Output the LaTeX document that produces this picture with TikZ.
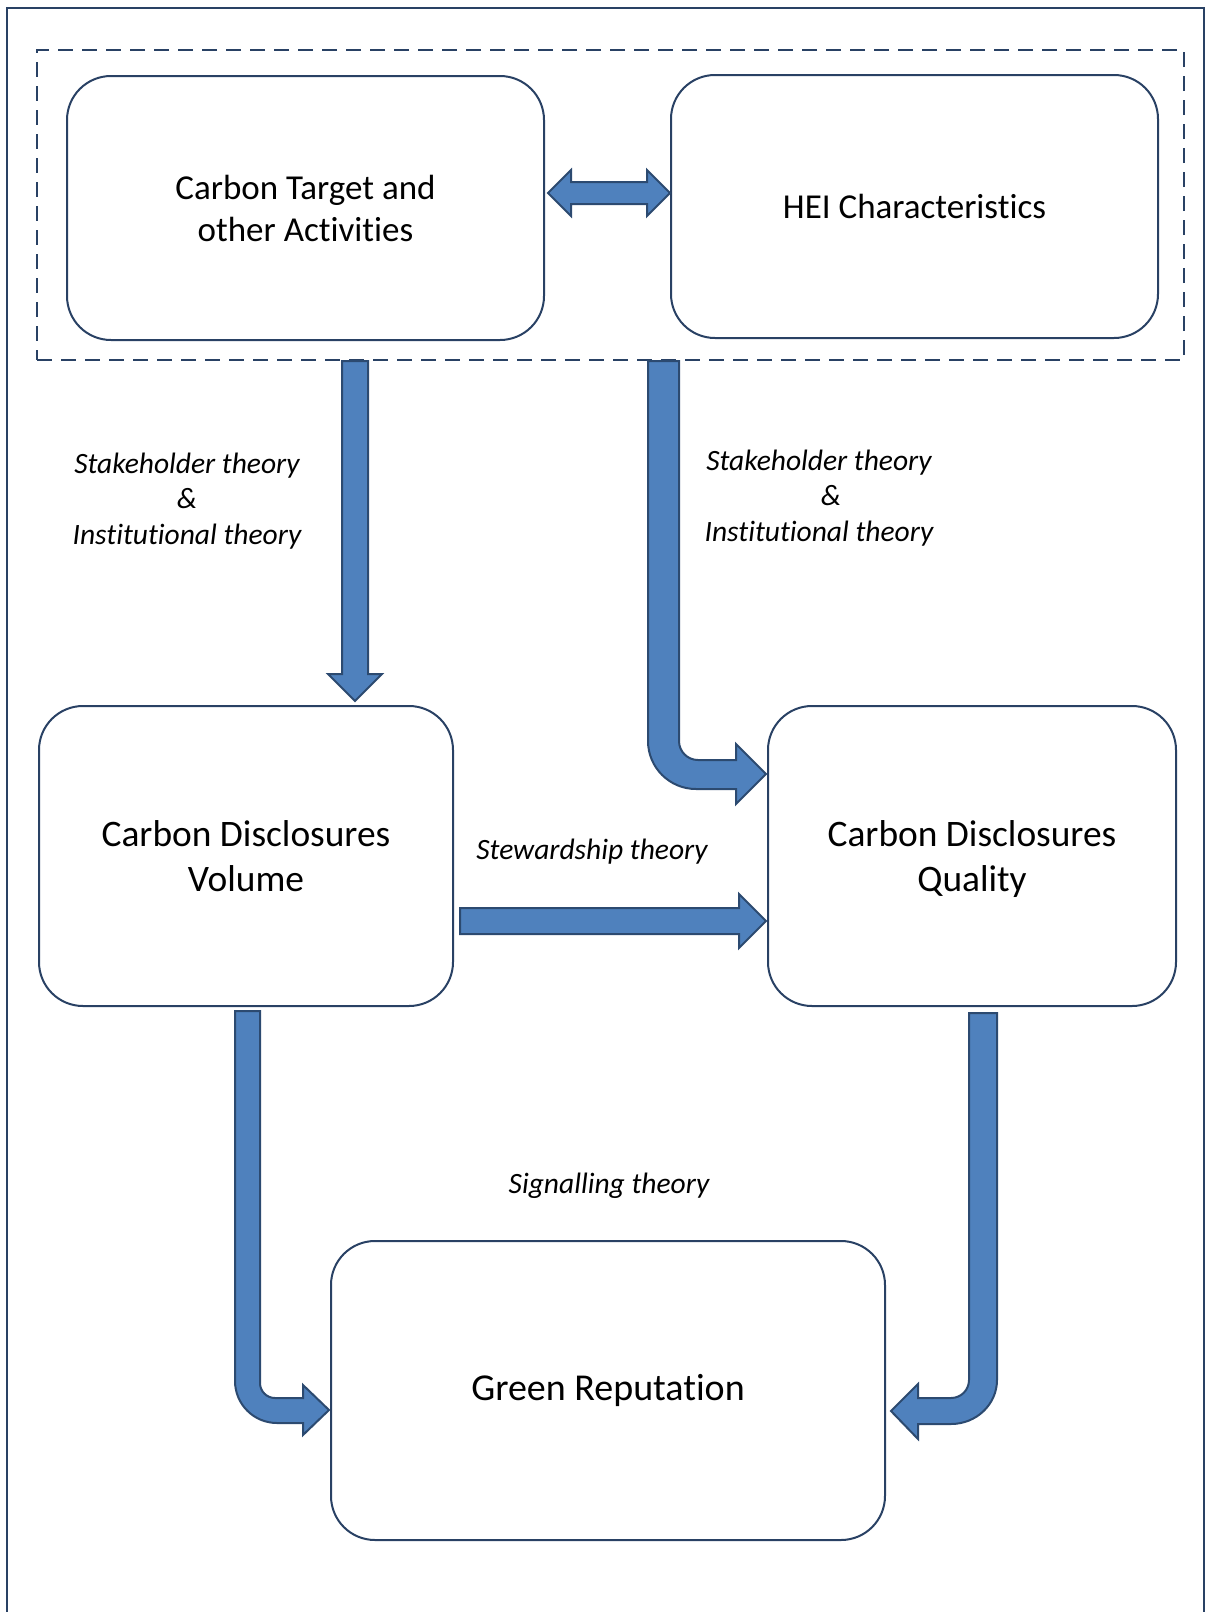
\documentclass[tikz,border=0pt]{standalone}
\usepackage{fontspec}
\setmainfont{Carlito}[Ligatures=NoCommon]
\usepackage{tikz}
\usetikzlibrary{positioning,calc}

\definecolor{boxline}{RGB}{41,65,100}
\definecolor{arrfill}{RGB}{79,129,189}
\definecolor{arrline}{RGB}{44,74,112}

\begin{document}
\begin{tikzpicture}[x=0.5pt,y=-0.5pt,
  box/.style={draw=boxline, line width=1pt, rounded corners=22pt, align=center, inner sep=0pt, font=\fontsize{17.5}{21}\selectfont},
  bigbox/.style={box, text depth=0pt, font=\fontsize{18.7}{22.8}\selectfont},
  theory/.style={align=center, inner sep=0pt, font=\fontsize{14.75}{17.7}\selectfont\itshape},
  blockarrow/.style={draw=arrline, fill=arrfill, line width=1pt, line join=miter}]
\useasboundingbox (0,0) rectangle (1205,1612);

%Shape: Frame
\draw[boxline, line width=1pt] (7,1620) -- (7,8) -- (1204,8) -- (1204,1620);

%Shape: Dashed Rectangle
\node[draw=boxline, line width=1pt, dash pattern=on 7.5pt off 4.5pt, minimum width=573.5pt, minimum height=155pt, inner sep=0pt] (group) at (610.5,205) {};

%Shape: Rounded Rect
\node[box, minimum width=238.5pt, minimum height=132pt] (target) at (305.5,208) {Carbon Target and\\other Activities};
%Shape: Rounded Rect
\node[box, minimum width=243.5pt, minimum height=131.5pt] (hei) at (914.5,206.5) {HEI Characteristics};
%Shape: Rounded Rect
\node[bigbox, minimum width=207pt, minimum height=150pt] (volume) at (246,856) {Carbon Disclosures\\Volume};
%Shape: Rounded Rect
\node[bigbox, minimum width=204pt, minimum height=150pt] (quality) at (972,856) {Carbon Disclosures\\Quality};
%Shape: Rounded Rect
\node[bigbox, minimum width=277pt, minimum height=149.5pt, text depth=, font=\fontsize{19}{22.5}\selectfont] (green) at (608,1390.5) {Green Reputation};

%Left-Right Arrow
\coordinate (d1) at ($(target.east)+(3,-15)$);
\draw[blockarrow] (d1) -- ++(23,-23) -- ++(0,12) -- ++(76,0) -- ++(0,-12) -- ++(23,23) -- ++(-23,23) -- ++(0,-12) -- ++(-76,0) -- ++(0,12) -- cycle;

%Down Arrow
\coordinate (a1) at ($(volume.north)+(96,0)$);
\draw[blockarrow] (a1 |- group.south) -- ++(0,313) -- ++(-14,0) -- ++(27,27) -- ++(27,-27) -- ++(-14,0) -- ++(0,-313) -- cycle;

%Bent Arrow
\coordinate (b1) at ($(quality.west)+(-119,0)$);
\draw[blockarrow] (b1 |- group.south) -- ++(0,380) .. controls +(0,26.5) and +(-26.5,0) .. ++(48,48) -- ++(40,0) -- ++(0,15) -- ++(30,-30) -- ++(-30,-30) -- ++(0,16) -- ++(-38,0) .. controls +(-10.5,0) and +(0,10.5) .. ++(-19,-19) -- ++(0,-380) -- cycle;

%Right Arrow
\draw[blockarrow] ($(volume.east)+(6,52)$) -- ++(279,0) -- ++(0,-14) -- ++(27,27) -- ++(-27,27) -- ++(0,-14) -- ++(-279,0) -- cycle;

%Bent Arrow
\draw[blockarrow] ($(volume.south)+(-11,4)$) -- ++(0,370) .. controls +(0,23.2) and +(-23.2,0) .. ++(42,42) -- ++(26,0) -- ++(0,12) -- ++(26,-25) -- ++(-26,-25) -- ++(0,13) -- ++(-28,0) .. controls +(-8.3,0) and +(0,8.3) .. ++(-15,-15) -- ++(0,-372) -- cycle;

%Bent Arrow
\draw[blockarrow] ($(quality.south)+(25,6)$) -- ++(0,367) .. controls +(0,24.3) and +(25.4,0) .. ++(-46,44) -- ++(-33,0) -- ++(0,15) -- ++(-27,-28) -- ++(27,-27) -- ++(0,14) -- ++(33,0) .. controls +(10,0) and +(0,10) .. ++(18,-18) -- ++(0,-367) -- cycle;

% Text Node
\node[theory] (stake1) at (187,501) {Stakeholder theory\\\&\\Institutional theory};
% Text Node
\node[theory] (stake2) at (819,498) {Stakeholder theory\\\hspace*{12pt}\&\\Institutional theory};
% Text Node
\node[theory] (steward) at (592,852) {Stewardship theory};
% Text Node
\node[theory] (signal) at (609,1186) {Signalling theory};

\end{tikzpicture}
\end{document}
